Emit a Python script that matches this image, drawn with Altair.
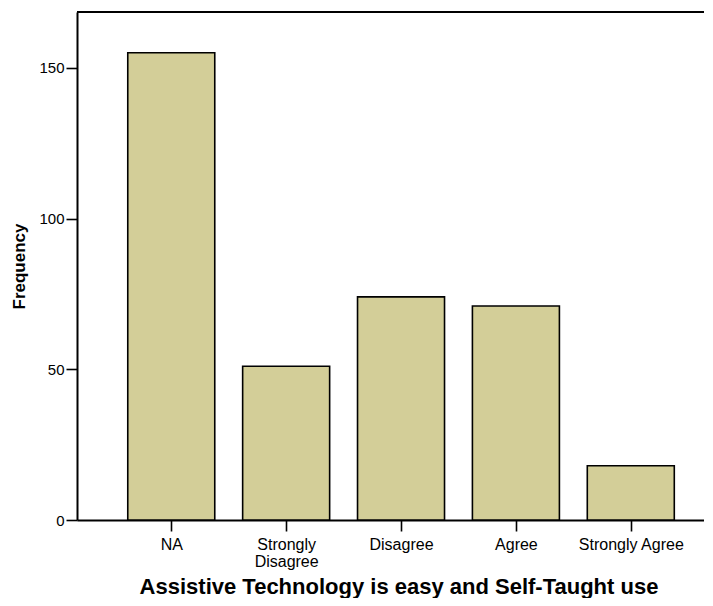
import altair as alt
import pandas as pd

categories = ["NA", "Strongly Disagree", "Disagree", "Agree", "Strongly Agree"]
frequencies = [155, 51, 74, 71, 18]
y_ticks = [0, 50, 100, 150]

df = pd.DataFrame({
    "idx": list(range(len(categories))),
    "category": categories,
    "freq": frequencies,
})

label_expr = (
    "datum.value == 0 ? 'NA' : datum.value == 1 ? ['Strongly', 'Disagree'] : "
    "datum.value == 2 ? 'Disagree' : datum.value == 3 ? 'Agree' : "
    "datum.value == 4 ? 'Strongly Agree' : ''"
)

FONT = "Liberation Sans"
W = 643
H = 508

bars = alt.Chart(df).mark_bar(
    orient="vertical", size=87, color="#d3ce98", stroke="black", strokeWidth=1.6
).encode(
    x=alt.X(
        "idx:Q",
        scale=alt.Scale(domain=[-0.777, 4.733], nice=False, zero=False),
        axis=alt.Axis(
            values=[0, 1, 2, 3, 4],
            labelExpr=label_expr,
            title="Assistive Technology is easy and Self-Taught use",
            grid=False,
            labelFontSize=16,
            labelLineHeight=17,
            labelPadding=5,
            titleFontSize=22,
            titleBaseline="alphabetic",
            titleY=73,
        ),
    ),
    y=alt.Y(
        "freq:Q",
        scale=alt.Scale(domain=[0, 168.5], nice=False),
        axis=alt.Axis(
            values=y_ticks,
            title="Frequency",
            grid=False,
            labelFontSize=15,
            labelPadding=2,
            titleFontSize=17,
            titlePadding=10,
        ),
    ),
)

top_line = alt.Chart(df).mark_rule(color="black", strokeWidth=2).encode(
    x=alt.value(0), x2=alt.value(W), y=alt.value(0)
)

chart = alt.layer(bars, top_line).properties(
    width=W,
    height=H,
    autosize=alt.AutoSizeParams(type="none"),
    padding={"left": 69, "top": 4, "right": -16, "bottom": 78},
).configure_view(
    strokeWidth=0
).configure_axis(
    domainColor="black",
    domainWidth=2,
    tickColor="black",
    tickWidth=1.6,
    tickSize=11,
    labelColor="black",
    titleColor="black",
    labelFont=FONT,
    titleFont=FONT,
    titleFontWeight="bold",
)

chart.save("out.html", embed_options={"renderer": "svg", "actions": False})
